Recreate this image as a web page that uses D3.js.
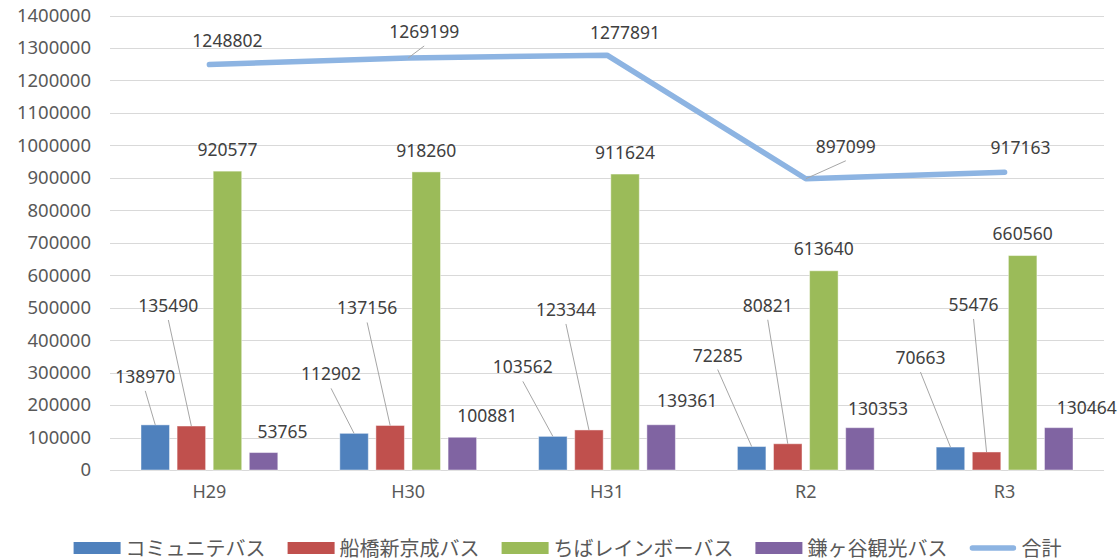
<!DOCTYPE html>
<html><head><meta charset="utf-8">
<script src="https://cdn.jsdelivr.net/npm/d3@7"></script>
<style>
html,body{margin:0;padding:0;background:#fff;}
svg text{font-family:"Noto Sans","Noto Sans CJK JP",sans-serif;}
</style>
</head><body>
<svg id="chart" width="1120" height="560"></svg>
<script>
// ---- data ----
const categories = ["H29","H30","H31","R2","R3"];
const seriesNames = ["コミュニテバス","船橋新京成バス","ちばレインボーバス","鎌ヶ谷観光バス"];
const communityBus = [138970,112902,103562,72285,70663];
const funabashiBus = [135490,137156,123344,80821,55476];
const rainbowBus   = [920577,918260,911624,613640,660560];
const kamagayaBus  = [53765,100881,139361,130353,130464];
const totalName = "合計";
const totals = [1248802,1269199,1277891,897099,917163];
const yTicks = [0,100000,200000,300000,400000,500000,600000,700000,800000,900000,1000000,1100000,1200000,1300000,1400000];

// ---- layout / style (not data) ----
const colors = ["#4F81BD","#C0504D","#9BBB59","#8064A2"];
const lineColor = "#8DB4E2";
// label offsets [dx, dy, leader] relative to bar top centre, per series, per category
const barLabelOffsets = [
  [[-10,-49,1],[-23,-60,1],[-30,-70,1],[-34,-92,1],[-30,-90,1]],
  [[-23,-121,1],[-23,-118,1],[-23,-121,1],[-20,-139,1],[-13,-148,1]],
  [[0,-22,0],[0,-22,0],[0,-22,0],[0,-23,0],[0,-23,0]],
  [[19,-22,0],[25,-22,0],[26,-25,0],[18,-20,0],[28,-21,0]]
];
const totalLabelOffsets = [[18,-25,0],[16,-27,1],[18,-23,0],[40,-33,1],[16,-25,0]];

const svg = d3.select("#chart");
const plotLeft = 110, plotRight = 1104, plotTop = 15.5, plotBottom = 470;

const y = d3.scaleLinear().domain([0,1400000]).range([plotBottom, plotTop]);
const x0 = d3.scaleBand().domain(categories).range([plotLeft, plotRight]).padding(0);
const groupPad = 31;
const x1 = d3.scaleBand().domain(seriesNames)
  .range([groupPad, x0.bandwidth()-groupPad]).paddingInner(0.21).paddingOuter(0);

// gridlines
svg.append("g").selectAll("line").data(yTicks).join("line")
  .attr("x1", plotLeft).attr("x2", plotRight)
  .attr("y1", d=>Math.round(y(d))+0.5).attr("y2", d=>Math.round(y(d))+0.5)
  .attr("stroke", "#d9d9d9").attr("stroke-width", 1);

// y axis labels
const yAxis = d3.axisLeft(y).tickValues(yTicks).tickSize(0).tickPadding(0).tickFormat(d3.format("d"));
const gy = svg.append("g").attr("transform", `translate(91,0)`).call(yAxis);
gy.select(".domain").remove();
gy.selectAll("text").attr("fill","#595959").style("font-size","18.5px")
  .style("font-family",'"Noto Sans",sans-serif');

// x axis labels
const xAxis = d3.axisBottom(x0).tickSize(0).tickPadding(0);
const gx = svg.append("g").attr("transform", `translate(0,485)`).call(xAxis);
gx.select(".domain").remove();
gx.selectAll("text").attr("fill","#595959").style("font-size","18px")
  .style("font-family",'"Noto Sans",sans-serif');

const seriesValues = [communityBus, funabashiBus, rainbowBus, kamagayaBus];

// bars
seriesValues.forEach((vals, si) => {
  svg.append("g").selectAll("rect").data(vals).join("rect")
    .attr("x", (d,i)=> x0(categories[i]) + x1(seriesNames[si]))
    .attr("y", d=> y(d))
    .attr("width", x1.bandwidth())
    .attr("height", d=> y(0)-y(d))
    .attr("fill", colors[si])
    .attr("stroke", "rgba(255,255,255,0.45)").attr("stroke-width", 1);
});

// total line
const cx = c => x0(c) + x0.bandwidth()/2;
const line = d3.line().x((d,i)=>cx(categories[i])).y(d=>y(d));
svg.append("path").datum(totals).attr("d", line)
  .attr("fill","none").attr("stroke", lineColor).attr("stroke-width", 5.5)
  .attr("stroke-linecap","round").attr("stroke-linejoin","round");

// labels
const labelG = svg.append("g");
function addLabel(px, py, off, val){
  const lx = px + off[0], ly = py + off[1];
  if (off[2]) {
    labelG.append("line").attr("x1", lx).attr("y1", ly+15).attr("x2", px).attr("y2", py)
      .attr("stroke","#a6a6a6").attr("stroke-width",1);
  }
  labelG.append("text").attr("x", lx).attr("y", ly).attr("text-anchor","middle")
    .attr("dominant-baseline","central").attr("fill","#404040")
    .style("font-size","17.5px").text(val);
}
seriesValues.forEach((vals, si) => {
  vals.forEach((v, i) => {
    const px = x0(categories[i]) + x1(seriesNames[si]) + x1.bandwidth()/2;
    addLabel(px, y(v), barLabelOffsets[si][i], v);
  });
});
totals.forEach((v,i) => addLabel(cx(categories[i]), y(v), totalLabelOffsets[i], v));

// legend
const legendItems = seriesNames.map((n,i)=>({name:n, color:colors[i], type:"rect"}))
  .concat([{name:totalName, color:lineColor, type:"line"}]);
const lg = svg.append("g");
const swW = 47, swH = 12, txtGap = 5, itemGap = 22, legY = 548;
let cursor = 0;
legendItems.forEach(it => {
  const g = lg.append("g");
  if (it.type === "rect") {
    g.append("rect").attr("x",0).attr("y",legY-swH/2).attr("width",swW).attr("height",swH).attr("fill",it.color);
  } else {
    g.append("line").attr("x1",3).attr("x2",swW-3).attr("y1",legY).attr("y2",legY)
      .attr("stroke",it.color).attr("stroke-width",5.5).attr("stroke-linecap","round");
  }
  const t = g.append("text").attr("x", swW+txtGap).attr("y", legY).attr("dominant-baseline","central")
    .attr("fill","#595959").style("font-size","20px").text(it.name);
  const w = swW + txtGap + t.node().getComputedTextLength();
  g.attr("transform", `translate(${cursor},0)`);
  cursor += w + itemGap;
});
const totalW = cursor - itemGap;
lg.attr("transform", `translate(${567.5 - totalW/2},0)`);
</script>
</body></html>
